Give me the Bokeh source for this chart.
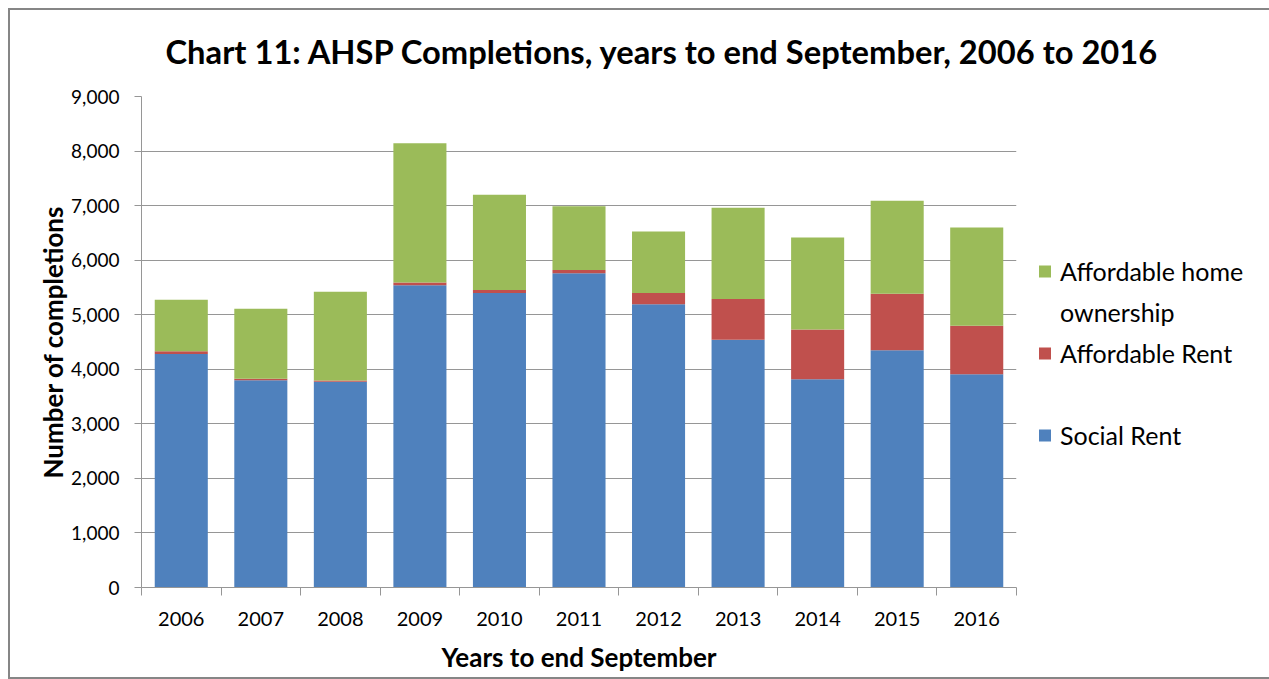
from bokeh.plotting import figure
from bokeh.models import (ColumnDataSource, Range1d, FixedTicker, NumeralTickFormatter,
                          Legend, LegendItem, Title)
from bokeh.embed import file_html
from bokeh.resources import INLINE

# ---- data ----
years = [2006, 2007, 2008, 2009, 2010, 2011, 2012, 2013, 2014, 2015, 2016]
social_rent = [4280, 3800, 3770, 5540, 5400, 5760, 5190, 4540, 3815, 4350, 3910]
affordable_rent = [50, 25, 25, 50, 55, 60, 210, 750, 915, 1035, 890]
affordable_home_ownership = [945, 1285, 1625, 2555, 1745, 1170, 1125, 1670, 1685, 1705, 1800]
y_ticks = [0, 1000, 2000, 3000, 4000, 5000, 6000, 7000, 8000, 9000]

BLUE = "#4F81BD"
RED = "#C0504D"
GREEN = "#9BBB59"
GRID = "#969696"
FONT = "Lato"

source = ColumnDataSource(dict(year=years, social=social_rent,
                               arent=affordable_rent, aho=affordable_home_ownership))

p = figure(output_backend="svg", toolbar_location=None,
           x_range=Range1d(years[0] - 0.5, years[-1] + 0.5),
           y_range=Range1d(0, 9000),
           frame_width=875, frame_height=491,
           min_border_left=131, min_border_top=86, min_border_right=249, min_border_bottom=90)
p.styles = {"border": "2px solid #868686", "margin-left": "8px", "margin-top": "8px"}
p.outline_line_color = None
p.background_fill_color = "white"
p.border_fill_color = "white"

renderers = p.vbar_stack(["social", "arent", "aho"], x="year", width=0.667,
                         color=[BLUE, RED, GREEN], line_color=None, source=source)
dummy = p.vbar(x=[], top=[], width=0.5, fill_alpha=0, line_alpha=0)

# spacer between frame and title
p.add_layout(Title(text=" ", text_font_size="8px", standoff=4), "above")

# title
p.title.text = "Chart 11: AHSP Completions, years to end September, 2006 to 2016"
p.title.text_font = FONT
p.title.text_font_size = "32.7px"
p.title.text_font_style = "bold"
p.title.text_color = "#000000"
p.title.align = "left"
p.title.offset = 24
p.title.standoff = 22

# x axis
xa = p.xaxis[0]
xa.ticker = FixedTicker(ticks=years, minor_ticks=[y - 0.5 for y in years] + [years[-1] + 0.5])
xa.major_tick_out = 0
xa.major_tick_in = 0
xa.minor_tick_out = 8
xa.minor_tick_in = 0
xa.minor_tick_line_color = GRID
xa.axis_line_color = GRID
xa.major_label_text_font = FONT
xa.major_label_text_font_size = "20px"
xa.major_label_text_color = "#000000"
xa.major_label_standoff = 16
xa.axis_label = "Years to end September"
xa.axis_label_text_font = FONT
xa.axis_label_text_font_size = "26px"
xa.axis_label_text_font_style = "bold"
xa.axis_label_text_color = "#000000"
xa.axis_label_standoff = 12

# y axis
ya = p.yaxis[0]
ya.ticker = FixedTicker(ticks=y_ticks)
ya.formatter = NumeralTickFormatter(format="0,0")
ya.major_tick_out = 7
ya.major_tick_in = 0
ya.minor_tick_out = 0
ya.minor_tick_in = 0
ya.major_tick_line_color = GRID
ya.axis_line_color = GRID
ya.major_label_text_font = FONT
ya.major_label_text_font_size = "19px"
ya.major_label_text_color = "#000000"
ya.major_label_standoff = 15
ya.axis_label = "Number of completions"
ya.axis_label_text_font = FONT
ya.axis_label_text_font_size = "26px"
ya.axis_label_text_font_style = "bold"
ya.axis_label_text_color = "#000000"
ya.axis_label_standoff = -1

p.xgrid.grid_line_color = None
p.ygrid.ticker = FixedTicker(ticks=y_ticks)
p.ygrid.grid_line_color = GRID
p.ygrid.grid_line_width = 1

# legend (two-line first label built from a main item plus a glyph-less continuation item)
legend = Legend(items=[LegendItem(label="Affordable home", renderers=[renderers[2]]),
                       LegendItem(label="ownership", renderers=[dummy]),
                       LegendItem(label="Affordable Rent", renderers=[renderers[1]]),
                       LegendItem(label=" ", renderers=[dummy]),
                       LegendItem(label="Social Rent", renderers=[renderers[0]])],
                location="left", orientation="vertical",
                title=" ", title_text_font_size="10px", title_standoff=11,
                glyph_width=15, glyph_height=15, label_standoff=8,
                label_text_font=FONT, label_text_font_size="25px", label_text_color="#000000",
                label_height=31, spacing=10, padding=0, margin=21,
                border_line_color=None, background_fill_alpha=0)
p.add_layout(legend, "right")

open("out.html", "w").write(file_html(p, INLINE))
